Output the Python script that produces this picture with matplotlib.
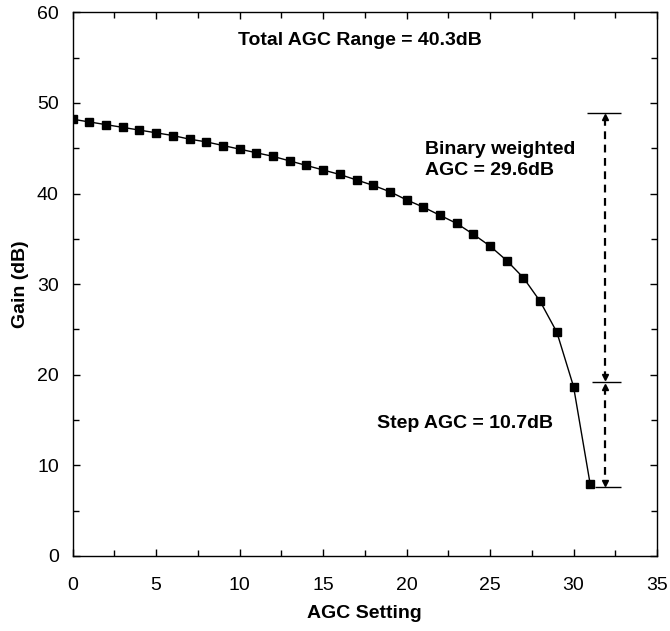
import numpy as np
import matplotlib
matplotlib.use("Agg")
import matplotlib.pyplot as plt
from matplotlib.ticker import MultipleLocator

plt.rcParams['font.family'] = ['Liberation Sans', 'DejaVu Sans']

# AGC setting vs gain
agc_setting = list(range(32))
gain_db = [48.2, 47.9, 47.6, 47.3, 47.0, 46.7, 46.4, 46.0, 45.7, 45.3,
           44.9, 44.5, 44.1, 43.6, 43.1, 42.6, 42.1, 41.5, 40.9, 40.2,
           39.3, 38.5, 37.6, 36.7, 35.5, 34.2, 32.6, 30.7, 28.1, 24.7,
           18.7, 7.9]

# dimension lines for the AGC ranges
range_levels = [48.9, 19.2, 7.6]
range_starts = [30.8, 31.1, 31.3]
range_end = 32.85
range_x = 31.9

fig = plt.figure(figsize=(6.7, 6.31), dpi=100)
ax = fig.add_axes([0.1085, 0.1189, 0.8721, 0.8616])

ax.plot(agc_setting, gain_db, color='k', lw=1.0, marker='s', ms=5.2,
        mfc='k', mec='k')

# horizontal reference lines
for lvl, x0 in zip(range_levels, range_starts):
    ax.hlines(lvl, x0, range_end, color='k', lw=1.0)

# dashed double arrows
for top, bot in [(range_levels[0], range_levels[1]), (range_levels[1], range_levels[2])]:
    ax.plot([range_x, range_x], [top - 0.6, bot + 0.6], color='k', lw=1.6,
            ls=(0, (3.5, 2.5)))
    ax.plot(range_x, top - 0.5, marker='^', color='k', ms=4.5)
    ax.plot(range_x, bot + 0.5, marker='v', color='k', ms=4.5)

ax.text(17.2, 56.9, 'Total AGC Range = 40.3dB', ha='center', va='center',
        fontsize=14, fontweight='bold')
ax.text(21.1, 43.7, 'Binary weighted\nAGC = 29.6dB', ha='left', va='center',
        fontsize=14, fontweight='bold', linespacing=1.35)
ax.text(18.25, 14.6, 'Step AGC = 10.7dB', ha='left', va='center',
        fontsize=14, fontweight='bold')

ax.set_xlim(0, 35)
ax.set_ylim(0, 60)
ax.xaxis.set_major_locator(MultipleLocator(5))
ax.xaxis.set_minor_locator(MultipleLocator(2.5))
ax.yaxis.set_major_locator(MultipleLocator(10))
ax.yaxis.set_minor_locator(MultipleLocator(5))
ax.tick_params(which='both', direction='in', top=True, right=True,
               labelsize=14, width=1.0)
ax.tick_params(which='major', length=5)
ax.tick_params(which='minor', length=4)
ax.tick_params(axis='x', which='major', pad=15)
ax.tick_params(axis='y', which='major', pad=10)

ax.set_xlabel('AGC Setting', fontsize=14, fontweight='bold', labelpad=8)
ax.set_ylabel('Gain (dB)', fontsize=14, fontweight='bold', labelpad=6)

for s in ax.spines.values():
    s.set_linewidth(1.0)

fig.savefig('out.png', dpi=100)
